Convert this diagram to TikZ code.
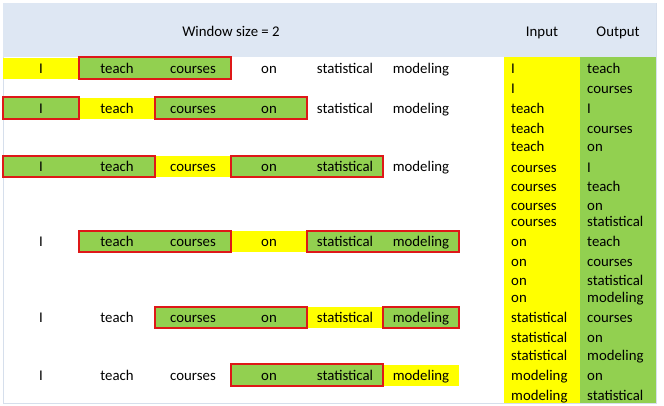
\documentclass[tikz,border=0pt]{standalone}
\usepackage{fontspec}
\setmainfont{Carlito}
\definecolor{hdr}{RGB}{222,231,243}
\definecolor{frm}{RGB}{214,223,236}
\definecolor{ylw}{RGB}{255,255,0}
\definecolor{grn}{RGB}{146,208,80}
\definecolor{rbx}{RGB}{222,24,24}
\tikzset{
  txt/.style={inner sep=0pt, text height=12pt, text depth=2pt, font=\fontsize{14.8}{17}\selectfont, text=black},
  cell/.style={txt, minimum width=76pt, minimum height=21pt, anchor=center},
  celln/.style={},
  celly/.style={fill=ylw},
  cellg/.style={fill=grn},
  redbox/.style={draw=rbx, line width=2pt},
  rtext/.style={txt, anchor=west},
  htext/.style={txt, anchor=center}
}
\newcommand\wrow[8]{%
  \node[cell,cell#3] (r#1c0) at (41,#2) {I};
  \node[cell,cell#4] (r#1c1) at (117,#2) {teach};
  \node[cell,cell#5] (r#1c2) at (193,#2) {courses};
  \node[cell,cell#6] (r#1c3) at (269,#2) {on};
  \node[cell,cell#7] (r#1c4) at (345,#2) {statistical};
  \node[cell,cell#8] (r#1c5) at (421,#2) {modeling};
}
\begin{document}
\begin{tikzpicture}[x=1pt,y=-1pt]
\useasboundingbox (0,0) rectangle (664,405);
% frame and header
\draw[frm, line width=1pt] (3,3) rectangle (656.5,403);
\fill[hdr] (3,3) rectangle (656,57);
\node[htext] (hwin) at (231,31) {Window size = 2};
\node[htext] (hin) at (542,31) {Input};
\node[htext] (hout) at (618,31) {Output};
% right table columns
\fill[ylw] (504,57) rectangle (580,403);
\fill[grn] (580,57) rectangle (656,403);
\foreach \yy/\a/\b [count=\k] in {
  68/I/teach, 88/I/courses, 108/teach/I, 128/teach/courses, 146.5/teach/on,
  167/courses/I, 186.5/courses/teach, 205/courses/on, 221.5/courses/statistical,
  241.5/on/teach, 261.5/on/courses, 280/on/statistical, 297.5/on/modeling,
  317.5/statistical/courses, 337.5/statistical/on, 355.5/statistical/modeling,
  375.5/modeling/on, 395/modeling/statistical}{
  \node[rtext] (in\k) at (511,\yy) {\a};
  \node[rtext] (out\k) at (587,\yy) {\b};
}
% left rows
\wrow{1}{68}{y}{g}{g}{n}{n}{n}
\draw[redbox] (r1c1.north west) rectangle (r1c2.south east);
\wrow{2}{108}{g}{y}{g}{g}{n}{n}
\draw[redbox] (r2c0.north west) rectangle (r2c0.south east);
\draw[redbox] (r2c2.north west) rectangle (r2c3.south east);
\wrow{3}{166.5}{g}{g}{y}{g}{g}{n}
\draw[redbox] (r3c0.north west) rectangle (r3c1.south east);
\draw[redbox] (r3c3.north west) rectangle (r3c4.south east);
\wrow{4}{241.5}{n}{g}{g}{y}{g}{g}
\draw[redbox] (r4c1.north west) rectangle (r4c2.south east);
\draw[redbox] (r4c4.north west) rectangle (r4c5.south east);
\wrow{5}{317.5}{n}{n}{g}{g}{y}{g}
\draw[redbox] (r5c2.north west) rectangle (r5c3.south east);
\draw[redbox] (r5c5.north west) rectangle (r5c5.south east);
\wrow{6}{375}{n}{n}{n}{g}{g}{y}
\draw[redbox] (r6c3.north west) rectangle (r6c4.south east);
\end{tikzpicture}
\end{document}
